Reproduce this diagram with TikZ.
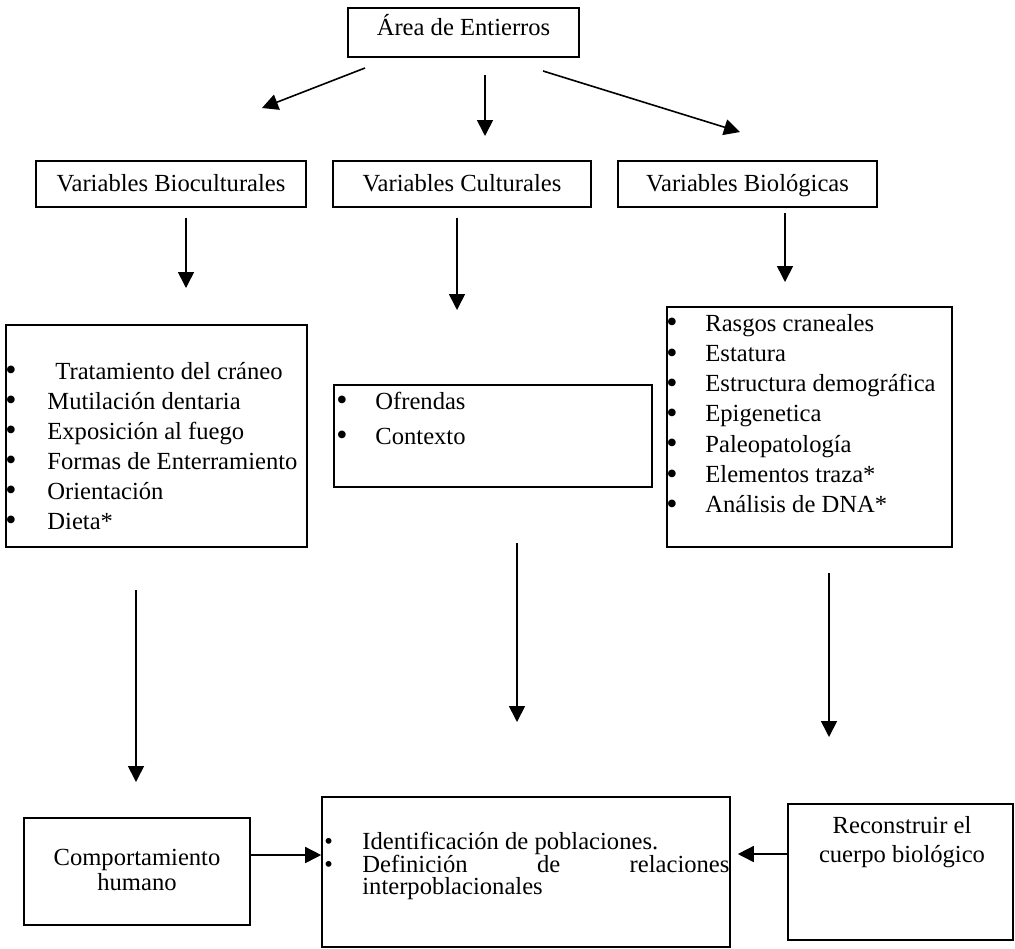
\documentclass[tikz,border=0pt]{standalone}
\usepackage{fontspec}
\usepackage{graphicx}
\setmainfont{Liberation Serif}
\usetikzlibrary{arrows.meta}
\newcommand{\bul}{\raisebox{-0.07em}{\scalebox{1.3}{\textbullet}}}
\begin{document}
\begin{tikzpicture}[x=0.5pt,y=-0.5pt,
  box/.style={draw, line width=0.8pt, rectangle, inner sep=0pt},
  lbl/.style={font=\fontsize{12.3}{14}\selectfont, inner sep=0pt, align=center},
  item/.style={font=\fontsize{12.3}{15}\selectfont, inner sep=0pt, anchor=base west},
  arr/.style={line width=0.8pt, -{Triangle[length=8pt,width=8pt]}}]
\useasboundingbox (0,0) rectangle (1015,948);

% ---- boxes ----
\node[box, minimum width=115.5pt, minimum height=24.5pt] (top)  at (463.5,32.5) {};
\node[box, minimum width=135pt,   minimum height=23pt]   (bioc) at (171,184) {};
\node[box, minimum width=129pt,   minimum height=23pt]   (cult) at (462,184) {};
\node[box, minimum width=129.5pt, minimum height=23pt]   (biol) at (747.5,184) {};
\node[box, minimum width=150.5pt, minimum height=111pt]  (bioclist) at (156.5,436) {};
\node[box, minimum width=159pt,   minimum height=51pt]   (cultlist) at (493,436) {};
\node[box, minimum width=142.5pt, minimum height=120pt]  (biollist) at (809.5,427) {};
\node[box, minimum width=113pt,   minimum height=53.5pt] (comp) at (137,871.5) {};
\node[box, minimum width=204pt,   minimum height=75pt]   (res)  at (526,872) {};
\node[box, minimum width=112.5pt, minimum height=68pt]   (rec)  at (900.5,872) {};

% ---- box titles (set on their baselines) ----
\node[lbl, anchor=base] (topT)  at (463.5,35) {Área de Entierros};
\node[lbl, anchor=base] (biocT) at (171,191) {Variables Bioculturales};
\node[lbl, anchor=base] (cultT) at (462,191) {Variables Culturales};
\node[lbl, anchor=base] (biolT) at (747.5,191) {Variables Biológicas};
\node[lbl, font=\fontsize{12.3}{11}\selectfont] (compT) at (137,870) {Comportamiento\\humano};
\node[lbl, font=\fontsize{12.3}{14.5}\selectfont] (recT) at (902,842) {Reconstruir el\\cuerpo biológico};

% ---- bullet lists ----
\node[item] (bb1) at (5,379) {\bul};
\node[item] (bt1) at (55,379) {Tratamiento del cráneo};
\foreach \t [count=\i from 2] in {Mutilación dentaria, Exposición al fuego,
    Formas de Enterramiento, Orientación, Dieta*} {
  \node[item] (bb\i) at (5,{379+30*(\i-1)}) {\bul};
  \node[item] (bt\i) at (47,{379+30*(\i-1)}) {\t};
}

\foreach \t [count=\i] in {Ofrendas, Contexto} {
  \node[item] (cb\i) at (336,{409+35*(\i-1)}) {\bul};
  \node[item] (ct\i) at (375,{409+35*(\i-1)}) {\t};
}

\foreach \t [count=\i] in {Rasgos craneales, Estatura, Estructura demográfica,
    Epigenetica, Paleopatología, Elementos traza*, Análisis de DNA*} {
  \node[item] (gb\i) at (666,{331+30.3*(\i-1)}) {\bul};
  \node[item] (gt\i) at (705,{331+30.3*(\i-1)}) {\t};
}

% tighter list in the result box, with plain bullets
\node[item] (rb1) at (324,849) {\textbullet};
\node[item] (rt1) at (362,849) {Identificación de poblaciones.};
\node[item] (rb2) at (324,872) {\textbullet};
\node[item] (rt2) at (362,872) {\makebox[183.5pt][s]{Definición\hfill de\hfill relaciones}};
\node[item] (rt3) at (362,894.5) {interpoblacionales};

% ---- connector end points ----
\coordinate (a1s) at (365,68);  \coordinate (a1e) at (262,108);
\coordinate (a2s) at (485,75);  \coordinate (a2e) at (485,136);
\coordinate (a3s) at (543,71);  \coordinate (a3e) at (740,132);
\coordinate (b1s) at (186,218); \coordinate (b1e) at (186,288);
\coordinate (b2s) at (457,218); \coordinate (b2e) at (457,310);
\coordinate (b3s) at (785,213); \coordinate (b3e) at (785,282);
\coordinate (c1s) at (136,590); \coordinate (c1e) at (136,782);
\coordinate (c2s) at (517,543); \coordinate (c2e) at (517,722);
\coordinate (c3s) at (829,573); \coordinate (c3e) at (829,737);
\coordinate (hL) at (0,855);
\coordinate (hR) at (0,854);

% ---- connectors ----
\draw[arr] (a1s) -- (a1e);
\draw[arr] (a2s) -- (a2e);
\draw[arr] (a3s) -- (a3e);
\draw[arr] (b1s) -- (b1e);
\draw[arr] (b2s) -- (b2e);
\draw[arr] (b3s) -- (b3e);
\draw[arr] (c1s) -- (c1e);
\draw[arr] (c2s) -- (c2e);
\draw[arr] (c3s) -- (c3e);
\draw[arr] (comp.east |- hL) -- (res.west |- hL);
\draw[arr, shorten >=3.5pt] (rec.west |- hR) -- (res.east |- hR);
\end{tikzpicture}
\end{document}
